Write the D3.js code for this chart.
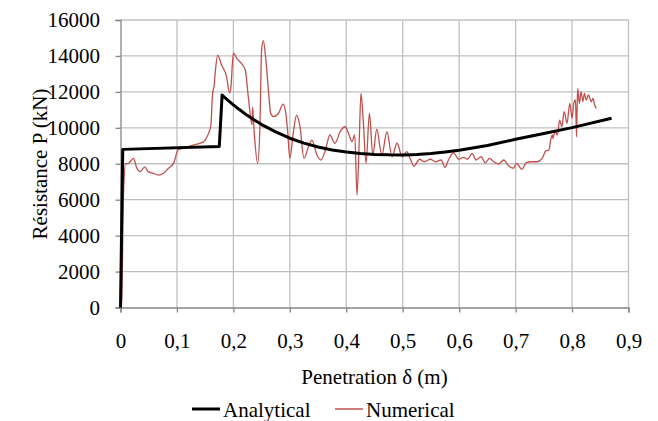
<html>
<head>
<script src="https://d3js.org/d3.v7.min.js"></script>
<style>
body { margin: 0; background: #fff; }
</style>
</head>
<body>
<svg width="658" height="421"></svg>
<script>
  // penetration (m) and resistance (kN)
  var analytical_x = [0, 0.004, 0.175, 0.18, 0.19, 0.2, 0.21, 0.225, 0.25, 0.275, 0.3, 0.325, 0.35, 0.375, 0.4, 0.425, 0.45, 0.475, 0.5, 0.525, 0.55, 0.575, 0.6, 0.65, 0.7, 0.75, 0.8, 0.87];
  var analytical_y = [0, 8800, 8960, 11820, 11540, 11280, 11030, 10680, 10180, 9770, 9420, 9150, 8930, 8770, 8650, 8570, 8520, 8495, 8490, 8515, 8570, 8650, 8750, 9020, 9360, 9680, 10010, 10530];

  var numerical_x = [0, 0.002, 0.005, 0.009, 0.014, 0.023, 0.029, 0.035, 0.043, 0.049, 0.058, 0.067, 0.076, 0.085, 0.094, 0.102, 0.111, 0.12, 0.129, 0.141, 0.15, 0.156, 0.16, 0.163, 0.166, 0.168, 0.172, 0.179, 0.188, 0.193, 0.195, 0.2, 0.206, 0.221, 0.227, 0.233, 0.234, 0.237, 0.243, 0.247, 0.25, 0.253, 0.257, 0.262, 0.266, 0.271, 0.28, 0.288, 0.292, 0.296, 0.3, 0.306, 0.312, 0.318, 0.325, 0.333, 0.339, 0.348, 0.355, 0.363, 0.371, 0.38, 0.389, 0.398, 0.404, 0.41, 0.415, 0.419, 0.423, 0.426, 0.43, 0.435, 0.441, 0.447, 0.454, 0.463, 0.472, 0.481, 0.49, 0.499, 0.507, 0.513, 0.52, 0.53, 0.538, 0.549, 0.558, 0.568, 0.575, 0.581, 0.59, 0.599, 0.608, 0.615, 0.623, 0.63, 0.639, 0.646, 0.654, 0.661, 0.67, 0.679, 0.688, 0.696, 0.702, 0.711, 0.719, 0.727, 0.738, 0.747, 0.754, 0.759, 0.762, 0.765, 0.766, 0.77, 0.774, 0.778, 0.782, 0.786, 0.791, 0.796, 0.8, 0.803, 0.806, 0.808, 0.809, 0.81, 0.813, 0.816, 0.819, 0.822, 0.825, 0.829, 0.834, 0.837, 0.84, 0.843];
  var numerical_y = [0, 0, 6000, 8000, 8020, 8300, 7750, 7560, 7830, 7560, 7470, 7370, 7470, 7750, 8020, 8760, 8860, 8950, 9040, 9140, 9320, 9690, 10100, 11830, 12380, 13120, 14050, 13500, 12840, 11950, 12100, 14150, 13870, 13220, 11550, 10160, 11170, 9690, 8020, 10060, 14330, 14850, 13960, 12100, 10810, 10620, 10810, 11320, 10990, 9880, 8300, 9690, 10710, 10060, 8300, 8950, 9320, 8490, 8210, 8760, 9600, 9140, 9780, 10060, 9690, 9230, 9600, 6260, 9320, 11920, 10430, 8020, 10810, 8490, 9920, 8490, 9780, 8390, 9140, 8390, 8670, 8300, 7870, 8250, 8110, 8250, 8110, 8210, 7800, 8210, 8610, 8250, 8360, 8250, 8580, 8210, 8390, 8060, 8300, 8110, 7990, 8210, 7870, 7750, 8020, 7690, 8060, 8110, 8110, 8300, 8730, 8760, 9320, 9600, 9420, 9780, 9600, 10430, 10060, 10900, 10250, 11360, 10530, 11360, 11550, 9500, 11170, 12200, 11360, 12010, 11450, 11920, 11550, 11830, 11450, 11640, 11270, 11080];

  var x_ticks = [0, 0.1, 0.2, 0.3, 0.4, 0.5, 0.6, 0.7, 0.8, 0.9];
  var y_ticks = [0, 2000, 4000, 6000, 8000, 10000, 12000, 14000, 16000];

  var font = "Liberation Serif";
  var fsize = 21;

  var svg = d3.select("svg");
  var x = d3.scaleLinear().domain([0, 0.9]).range([120.5, 628.5]);
  var y = d3.scaleLinear().domain([0, 16000]).range([307.5, 20]);

  // grid
  svg.append("g").selectAll("line.vg")
    .data(x_ticks.slice(1))
    .enter().append("line")
    .attr("x1", d => x(d)).attr("x2", d => x(d))
    .attr("y1", y(16000)).attr("y2", y(0))
    .attr("stroke", "#c0c0c0").attr("stroke-width", 1.3);
  svg.append("g").selectAll("line.hg")
    .data(y_ticks.slice(1))
    .enter().append("line")
    .attr("x1", x(0)).attr("x2", x(0.9))
    .attr("y1", d => y(d)).attr("y2", d => y(d))
    .attr("stroke", "#c0c0c0").attr("stroke-width", 1.3);

  // axes
  var xAxis = svg.append("g")
    .attr("transform", "translate(0," + y(0) + ")")
    .call(d3.axisBottom(x).tickValues(x_ticks).tickSize(5).tickPadding(20.5)
      .tickFormat(d => d === 0 ? "0" : d3.format(".1f")(d).replace(".", ",")));
  var yAxis = svg.append("g")
    .attr("transform", "translate(" + x(0) + ",0)")
    .call(d3.axisLeft(y).tickValues(y_ticks).tickSize(5).tickPadding(15.5).tickFormat(d3.format("d")));

  [xAxis, yAxis].forEach(function(a){
    a.attr("font-family", font).attr("font-size", fsize);
    a.select(".domain").attr("stroke", "#868686").attr("stroke-width", 1.3);
    a.selectAll(".tick line").attr("stroke", "#868686").attr("stroke-width", 1.3);
    a.selectAll("text").attr("fill", "#000");
  });

  // series
  var analytical = analytical_x.map((d, i) => [d, analytical_y[i]]);
  var numerical = numerical_x.map((d, i) => [d, numerical_y[i]]);
  var line = d3.line().x(d => x(d[0])).y(d => y(d[1]));
  var smooth = d3.line().x(d => x(d[0])).y(d => y(d[1])).curve(d3.curveMonotoneX);

  svg.append("path").datum(numerical)
    .attr("d", smooth).attr("fill", "none")
    .attr("stroke", "#c0504d").attr("stroke-width", 1.3).attr("stroke-linejoin", "round");
  svg.append("path").datum(analytical)
    .attr("d", line).attr("fill", "none")
    .attr("stroke", "#000").attr("stroke-width", 3).attr("stroke-linejoin", "round");

  // titles
  svg.append("text")
    .attr("x", 374.5).attr("y", 384)
    .attr("text-anchor", "middle").attr("font-family", font).attr("font-size", fsize)
    .text("Penetration δ (m)");
  svg.append("text")
    .attr("transform", "translate(47,164) rotate(-90)")
    .attr("text-anchor", "middle").attr("font-family", font).attr("font-size", fsize)
    .text("Résistance P (kN)");

  // legend
  var legend_names = ["Analytical", "Numerical"];
  var legend_colors = ["#000", "#c0504d"];
  var legend_widths = [3, 1.5];
  var legend_x = [192, 335];
  var legend = svg.selectAll("g.legend")
    .data(legend_names)
    .enter().append("g").attr("class", "legend");
  legend.append("line")
    .attr("x1", (d, i) => legend_x[i]).attr("x2", (d, i) => legend_x[i] + 28)
    .attr("y1", 409).attr("y2", 409)
    .attr("stroke", (d, i) => legend_colors[i])
    .attr("stroke-width", (d, i) => legend_widths[i]);
  legend.append("text")
    .attr("x", (d, i) => legend_x[i] + 31).attr("y", 417)
    .attr("font-family", font).attr("font-size", fsize)
    .text(d => d);
</script>
</body>
</html>
